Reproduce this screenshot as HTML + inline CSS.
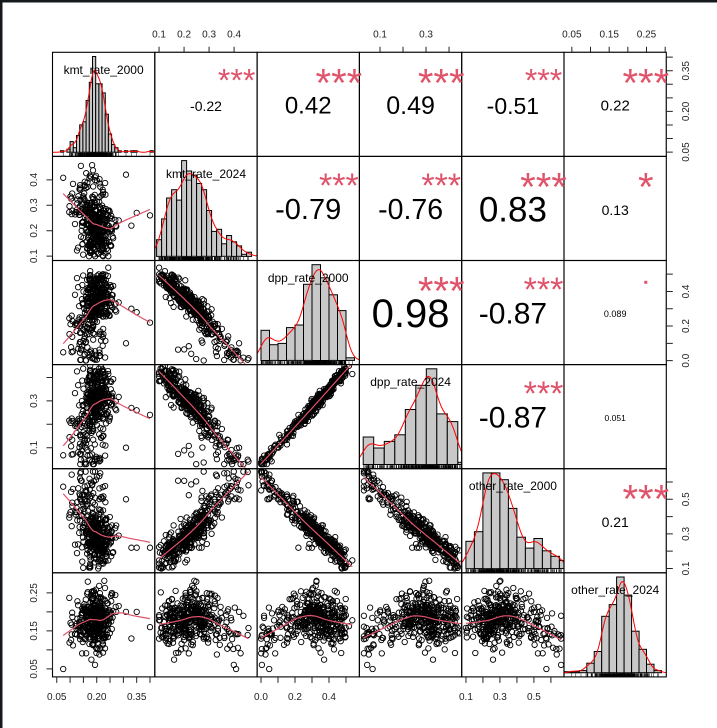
<!DOCTYPE html>
<html><head><meta charset="utf-8">
<style>
html,body{margin:0;padding:0;background:#fff;}
svg{display:block;font-family:"Liberation Sans",Arial,sans-serif;}
</style></head>
<body>
<svg id="s" width="717" height="728" viewBox="0 0 717 728" xmlns="http://www.w3.org/2000/svg">
<rect x="0" y="0" width="717" height="728" fill="#fff"/>
<rect x="0" y="0" width="717" height="2.5" fill="#15181c"/>
<rect x="0" y="0" width="2.5" height="728" fill="#15181c"/>
<g id="g"></g>
<g font-size="12" fill="#000" text-anchor="middle">
<text x="103.6" y="74">kmt_rate_2000</text>
<text x="206" y="178">kmt_rate_2024</text>
<text x="308.2" y="282">dpp_rate_2000</text>
<text x="410.6" y="386">dpp_rate_2024</text>
<text x="512.9" y="490">other_rate_2000</text>
<text x="615.2" y="594">other_rate_2024</text>
</g>
<g fill="#000" text-anchor="middle" dominant-baseline="central">
<text x="206" y="106" font-size="14">-0.22</text>
<text x="308.2" y="106" font-size="24">0.42</text>
<text x="410.6" y="106" font-size="25">0.49</text>
<text x="512.9" y="106" font-size="23">-0.51</text>
<text x="615.2" y="106" font-size="15">0.22</text>
<text x="308.2" y="210" font-size="29">-0.79</text>
<text x="410.6" y="210" font-size="28.5">-0.76</text>
<text x="512.9" y="210" font-size="35">0.83</text>
<text x="615.2" y="210" font-size="14">0.13</text>
<text x="410.6" y="314" font-size="40">0.98</text>
<text x="512.9" y="314" font-size="30">-0.87</text>
<text x="615.2" y="314" font-size="9">0.089</text>
<text x="512.9" y="418" font-size="30">-0.87</text>
<text x="615.2" y="418" font-size="8.5">0.051</text>
<text x="615.2" y="522" font-size="14">0.21</text>
</g>
<g id="stars" fill="#DF536B" text-anchor="middle"></g>
<rect x="644.3" y="280.8" width="3" height="3" fill="#DF536B"/>
<g id="ax" font-size="10" fill="#222" text-anchor="middle"></g>
</svg>
<script>
(function(){
var NS="http://www.w3.org/2000/svg";
var X0=52.5,Y0=52.3,W=102.3,H=104.1;
var dom=[[0.034,0.418],[0.083,0.492],[-0.023,0.579],[0.0104,0.455],[0.075,0.677],[0.029,0.303]];
function px(j,v){var d=dom[j];return X0+j*W+(v-d[0])/(d[1]-d[0])*W;}
function py(i,v){var d=dom[i];return Y0+(i+1)*H-(v-d[0])/(d[1]-d[0])*H;}
var seed=12345;function rnd(){seed|=0;seed=seed+0x6D2B79F5|0;var t=Math.imul(seed^seed>>>15,1|seed);t=t+Math.imul(t^t>>>7,61|t)^t;return((t^t>>>14)>>>0)/4294967296;}
function nrm(){var u=rnd()||1e-9,v=rnd();return Math.sqrt(-2*Math.log(u))*Math.cos(2*Math.PI*v);}
function clip(v,a,b){return Math.max(a,Math.min(b,v));}
var wts=[0.28,0.28,0.17,0.31,0.35,0.66,1.0,0.79,0.49,0.33,0.03];
var tw=wts.reduce(function(a,b){return a+b;},0);
var n=380,D=[[],[],[],[],[],[]];
for(var k=0;k<n;k++){
  var r=rnd()*tw,b=0;while(r>wts[b]){r-=wts[b];b++;}
  var dpp=0.05*b+rnd()*0.05;
  var k0;
  if(dpp<0.15) k0=0.07+rnd()*0.1+rnd()*0.08;
  else if(dpp<0.25) k0=0.16+nrm()*0.03;
  else k0=0.2+nrm()*0.028;
  var k4=0.42-0.6*dpp+nrm()*0.025;
  if(dpp<0.12&&rnd()<0.4) k4=0.1+rnd()*0.3;
  var d4=0.03+0.8*dpp+nrm()*0.015;
  var o0=0.62-0.95*dpp+nrm()*0.035;
  var o4=0.19-0.5*(dpp-0.3)*(dpp-0.3)-3*(k0-0.2)*(k0-0.2)+nrm()*0.035;
  D[0].push(clip(k0,0.05,0.4));D[1].push(clip(k4,0.1,0.47));D[2].push(clip(dpp,0,0.55));
  D[3].push(clip(d4,0.03,0.45));D[4].push(clip(o0,0.1,0.66));D[5].push(clip(o4,0.04,0.29));
}
var outl=[[0.31,0.42,0.1,0.1,0.5,0.2],[0.35,0.27,0.28,0.26,0.22,0.2],[0.4,0.26,0.22,0.24,0.22,0.16],[0.33,0.22,0.3,0.27,0.22,0.13]];
outl.forEach(function(o){for(var j=0;j<6;j++)D[j].push(o[j]);});
n=D[0].length;
var g=document.getElementById('g');
function el(t,a,p){var e=document.createElementNS(NS,t);for(var q in a)e.setAttribute(q,a[q]);(p||g).appendChild(e);return e;}
var defs=el('defs',{});
for(var i=0;i<6;i++)for(var j=0;j<6;j++){
  var cp=el('clipPath',{id:'c'+i+'_'+j},defs);
  el('rect',{x:X0+j*W,y:Y0+i*H,width:W,height:H},cp);
}
function lowess(xs,ys){
  var idx=xs.map(function(_,q){return q;}).sort(function(a,b){return xs[a]-xs[b];});
  var sx=idx.map(function(q){return xs[q];}),sy=idx.map(function(q){return ys[q];});
  var m=sx.length,kk=Math.floor(m*2/3),out=[];
  var lo=sx[0],hi=sx[m-1];
  for(var s=0;s<=60;s++){
    var x=lo+(hi-lo)*s/60;
    var ds=sx.map(function(v){return Math.abs(v-x);}).slice().sort(function(a,b){return a-b;});
    var h=ds[kk]||1e-6;
    var sw=0,swx=0,swy=0,swxx=0,swxy=0;
    for(var q=0;q<m;q++){var u=Math.abs(sx[q]-x)/h;if(u>=1)continue;var w=Math.pow(1-u*u*u,3);
      sw+=w;swx+=w*sx[q];swy+=w*sy[q];swxx+=w*sx[q]*sx[q];swxy+=w*sx[q]*sy[q];}
    var mx=swx/sw,my=swy/sw,vx=swxx/sw-mx*mx,cxy=swxy/sw-mx*my;
    var bb=vx>1e-12?cxy/vx:0;out.push([x,my+bb*(x-mx)]);
  }
  return out;
}
for(var i=0;i<6;i++)for(var j=0;j<6;j++){
  var bx=X0+j*W,by=Y0+i*H;
  if(j<i){
    var gg=el('g',{'clip-path':'url(#c'+i+'_'+j+')',fill:'none',stroke:'#000','stroke-width':0.9});
    for(var q=0;q<n;q++) el('circle',{cx:px(j,D[j][q]).toFixed(1),cy:py(i,D[i][q]).toFixed(1),r:2.7},gg);
    var lw=lowess(D[j],D[i]);
    el('polyline',{points:lw.map(function(p){return px(j,p[0]).toFixed(1)+','+py(i,p[1]).toFixed(1);}).join(' '),stroke:'#DF536B','stroke-width':1.2},gg);
  }
  if(i===j){
    var x=D[j];
    var bins={0:[0.04,0.012],1:[0.09,0.02],2:[0,0.05],3:[0.027,0.0457],4:[0.1,0.05],5:[0.03,0.02]}[j];
    var cnt=[];for(var q=0;q<n;q++){var bi=Math.floor((x[q]-bins[0])/bins[1]);cnt[bi]=(cnt[bi]||0)+1;}
    var mx=0;cnt.forEach(function(c){if(c>mx)mx=c;});
    var dens=function(c){return c/(n*bins[1]);};
    var mean=x.reduce(function(a,b){return a+b;},0)/n;
    var sd=Math.sqrt(x.reduce(function(a,b){return a+(b-mean)*(b-mean);},0)/(n-1));
    var srt=x.slice().sort(function(a,b){return a-b;});
    var iqr=srt[Math.floor(n*0.75)]-srt[Math.floor(n*0.25)];
    var bw=0.9*Math.min(sd,iqr/1.34)*Math.pow(n,-0.2);
    var dv=[],dmax=0;
    for(var s=0;s<=120;s++){var xv=dom[j][0]+(dom[j][1]-dom[j][0])*s/120,sum=0;
      for(var q=0;q<n;q++){var z=(xv-x[q])/bw;sum+=Math.exp(-0.5*z*z);}
      var dd=sum/(n*bw*Math.sqrt(2*Math.PI));dv.push([xv,dd]);if(dd>dmax)dmax=dd;}
    var ymax=Math.max(dens(mx),dmax);
    var y0=by+H-H*0.04,sc=(H*0.92)/ymax;
    var gg=el('g',{'clip-path':'url(#c'+i+'_'+j+')'});
    cnt.forEach(function(c,bi){if(!c)return;var x1=px(j,bins[0]+bi*bins[1]),x2=px(j,bins[0]+(bi+1)*bins[1]);
      el('rect',{x:x1.toFixed(1),y:(y0-dens(c)*sc).toFixed(1),width:(x2-x1).toFixed(1),height:(dens(c)*sc).toFixed(1),fill:'#c8c8c8',stroke:'#000','stroke-width':1},gg);});
    var rug='';for(var q=0;q<n;q++){var xx=px(j,x[q]).toFixed(1);rug+='M'+xx+' '+(by+H)+'V'+(by+H-3.5);}
    el('path',{d:rug,stroke:'#000','stroke-width':0.5,fill:'none'},gg);
    el('polyline',{points:dv.map(function(p){return px(j,p[0]).toFixed(1)+','+(y0-p[1]*sc).toFixed(1);}).join(' '),fill:'none',stroke:'#f00','stroke-width':1},gg);
  }
  el('rect',{x:bx,y:by,width:W,height:H,fill:'none',stroke:'#000','stroke-width':1.1});
}
var st=document.getElementById('stars');
var S=[[0,1,'***',32],[0,2,'***',40],[0,3,'***',40],[0,4,'***',32],[0,5,'***',40],
[1,2,'***',34],[1,3,'***',34],[1,4,'***',40],[1,5,'*',40],[2,3,'***',40],[2,4,'***',34],[3,4,'***',34],[4,5,'***',40]];
S.forEach(function(s){var cx=X0+s[1]*W+0.8*W,cy=Y0+s[0]*H+0.2*H;
  var t=el('text',{x:cx.toFixed(1),y:(cy+0.58*s[3]).toFixed(1),'font-size':s[3]},st);t.textContent=s[2];});
var ax=document.getElementById('ax');
function rng(a,b,st){var r=[];for(var v=a;v<=b+1e-9;v+=st)r.push(+v.toFixed(3));return r;}
var A=[
 {side:'top',k:1,ticks:rng(0.1,0.4,0.1),labs:{0.1:'0.1',0.2:'0.2',0.3:'0.3',0.4:'0.4'}},
 {side:'top',k:3,ticks:rng(0.1,0.4,0.1),labs:{0.1:'0.1',0.3:'0.3'}},
 {side:'top',k:5,ticks:rng(0.05,0.3,0.05),labs:{0.05:'0.05',0.15:'0.15',0.25:'0.25'}},
 {side:'bottom',k:0,ticks:rng(0.05,0.4,0.05),labs:{0.05:'0.05',0.2:'0.20',0.35:'0.35'}},
 {side:'bottom',k:2,ticks:rng(0,0.5,0.1),labs:{0:'0.0',0.2:'0.2',0.4:'0.4'}},
 {side:'bottom',k:4,ticks:rng(0.1,0.6,0.1),labs:{0.1:'0.1',0.3:'0.3',0.5:'0.5'}},
 {side:'left',k:1,ticks:rng(0.1,0.4,0.1),labs:{0.1:'0.1',0.2:'0.2',0.3:'0.3',0.4:'0.4'}},
 {side:'left',k:3,ticks:rng(0.1,0.4,0.1),labs:{0.1:'0.1',0.3:'0.3'}},
 {side:'left',k:5,ticks:rng(0.05,0.25,0.05),labs:{0.05:'0.05',0.15:'0.15',0.25:'0.25'}},
 {side:'right',k:0,ticks:rng(0.05,0.4,0.05),labs:{0.05:'0.05',0.2:'0.20',0.35:'0.35'}},
 {side:'right',k:2,ticks:rng(0,0.5,0.1),labs:{0:'0.0',0.2:'0.2',0.4:'0.4'}},
 {side:'right',k:4,ticks:rng(0.1,0.6,0.1),labs:{0.1:'0.1',0.3:'0.3',0.5:'0.5'}}
];
A.forEach(function(a){
  var d='',k=a.k,pos=[];
  a.ticks.forEach(function(v){var p=(a.side==='top'||a.side==='bottom')?px(k,v):py(k,v);pos.push(p);
    if(a.side==='top') d+='M'+p+' '+Y0+'V'+(Y0-5.5);
    if(a.side==='bottom') d+='M'+p+' '+(Y0+6*H)+'V'+(Y0+6*H+6);
    if(a.side==='left') d+='M'+X0+' '+p+'H'+(X0-6);
    if(a.side==='right') d+='M'+(X0+6*W)+' '+p+'H'+(X0+6*W+6.5);
    var lab=a.labs[v];
    if(lab!==undefined){
      var t;
      if(a.side==='top') t=el('text',{x:p,y:37.5},ax);
      if(a.side==='bottom') t=el('text',{x:p,y:700},ax);
      if(a.side==='left') t=el('text',{x:0,y:0,transform:'translate(37,'+p+') rotate(-90)'},ax);
      if(a.side==='right') t=el('text',{x:0,y:0,transform:'translate(689,'+p+') rotate(-90)'},ax);
      t.textContent=lab;
    }
  });
  var a0=pos[0],a1=pos[pos.length-1];
  if(a.side==='top') d+='M'+a0+' '+Y0+'H'+a1;
  if(a.side==='bottom') d+='M'+a0+' '+(Y0+6*H)+'H'+a1;
  if(a.side==='left') d+='M'+X0+' '+a0+'V'+a1;
  if(a.side==='right') d+='M'+(X0+6*W)+' '+a0+'V'+a1;
  el('path',{d:d,stroke:'#222','stroke-width':1,fill:'none'});
});
})();
</script>
</body></html>
